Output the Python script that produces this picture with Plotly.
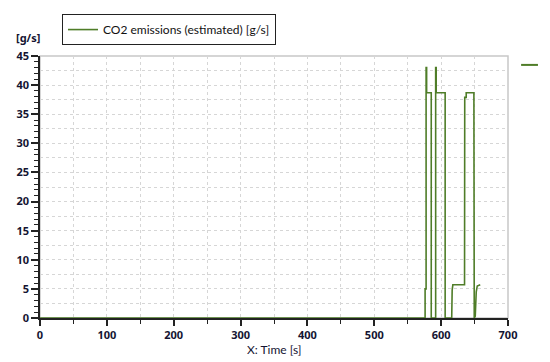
import plotly.graph_objects as go

# CO2 trace (time in s, emissions in g/s)
time_s = [0, 576, 576, 577.5, 577.5, 578.3, 578.3, 585.2, 585.2, 591.8, 591.8, 592.6,
          592.6, 606, 606, 615.8, 616.5, 617.5, 635, 635.3, 637.5, 637.5, 649, 649.5,
          651, 652.5, 654, 658.5]
co2_gs = [0, 0, 5, 5, 43, 43, 38.7, 38.7, 0, 0, 43, 43,
          38.7, 38.7, 0, 0, 4.8, 5.7, 5.7, 37.9, 37.9, 38.7, 38.7, 0,
          0.3, 4.5, 5.5, 5.7]

series_name = "CO2 emissions (estimated) [g/s]"
green = "#4f7d28"
grid = "#d6d6d6"
tick_font = dict(family="Noto Sans", size=11, color="#141432", weight="bold")
text_font = dict(family="Lato", size=12, color="#141432")

fig = go.Figure()
fig.add_trace(go.Scatter(x=time_s, y=co2_gs, mode="lines", name=series_name,
                         line=dict(color=green, width=1.6)))
# invisible trace only to carry the 2.5 step grid
fig.add_trace(go.Scatter(x=[0], y=[0], yaxis="y2", mode="lines", showlegend=False,
                         line=dict(width=0), hoverinfo="skip"))

# page body has an 8px margin, so the figure is 8px smaller than the window
fig.update_layout(
    width=542, height=354,
    margin=dict(l=32, r=42, t=48, b=44, autoexpand=False),
    plot_bgcolor="white", paper_bgcolor="white",
    font=text_font,
    showlegend=True,
    legend=dict(x=0.047, y=1.16, xanchor="left", yanchor="top",
                bordercolor="#222222", borderwidth=1, bgcolor="white",
                font=dict(family="Lato", size=12, color="#111111"),
                itemwidth=30),
    xaxis=dict(range=[0, 700], dtick=100, tick0=0, showgrid=True, automargin=False,
               gridcolor=grid, griddash="dot", gridwidth=1,
               ticks="outside", ticklen=6, tickwidth=1.5, tickcolor="#222222",
               showline=True, linecolor="#222222", linewidth=1.5,
               zeroline=False, tickfont=tick_font,
               minor=dict(dtick=50, ticks="outside", ticklen=4, tickwidth=1.2,
                          tickcolor="#222222", showgrid=True, gridcolor=grid,
                          griddash="dot")),
    yaxis=dict(range=[0, 45], dtick=5, tick0=0, showgrid=False, automargin=False,
               ticks="outside", ticklen=7, tickwidth=1.5, tickcolor="#222222",
               showline=True, linecolor="#222222", linewidth=1.5,
               zeroline=False, tickfont=tick_font,
               minor=dict(dtick=1, ticks="outside", ticklen=4, tickwidth=1.2,
                          tickcolor="#222222", showgrid=False)),
    yaxis2=dict(range=[0, 45], dtick=2.5, tick0=0, overlaying="y", side="left",
                automargin=False,
                showgrid=True, gridcolor=grid, griddash="dot", gridwidth=1,
                showticklabels=False, ticks="", showline=False, zeroline=False),
)

# light frame on top and right
fig.add_shape(type="rect", xref="paper", yref="paper", x0=0, x1=1, y0=0, y1=1,
              line=dict(color="#c8c8c8", width=1.5), layer="below")
# stray legend stub at the right edge
fig.add_shape(type="line", xref="paper", yref="paper", x0=1.028, x1=1.064,
              y0=0.966, y1=0.966, line=dict(color=green, width=2))

fig.add_annotation(text="[g/s]", xref="paper", yref="paper", x=-0.025, y=1.07,
                   xanchor="center", yanchor="middle", showarrow=False,
                   font=tick_font)
fig.add_annotation(text="X: Time [s]", xref="paper", yref="paper", x=0.5, y=-0.122,
                   xanchor="center", yanchor="middle", showarrow=False,
                   font=text_font)

fig.write_html("out.html")
